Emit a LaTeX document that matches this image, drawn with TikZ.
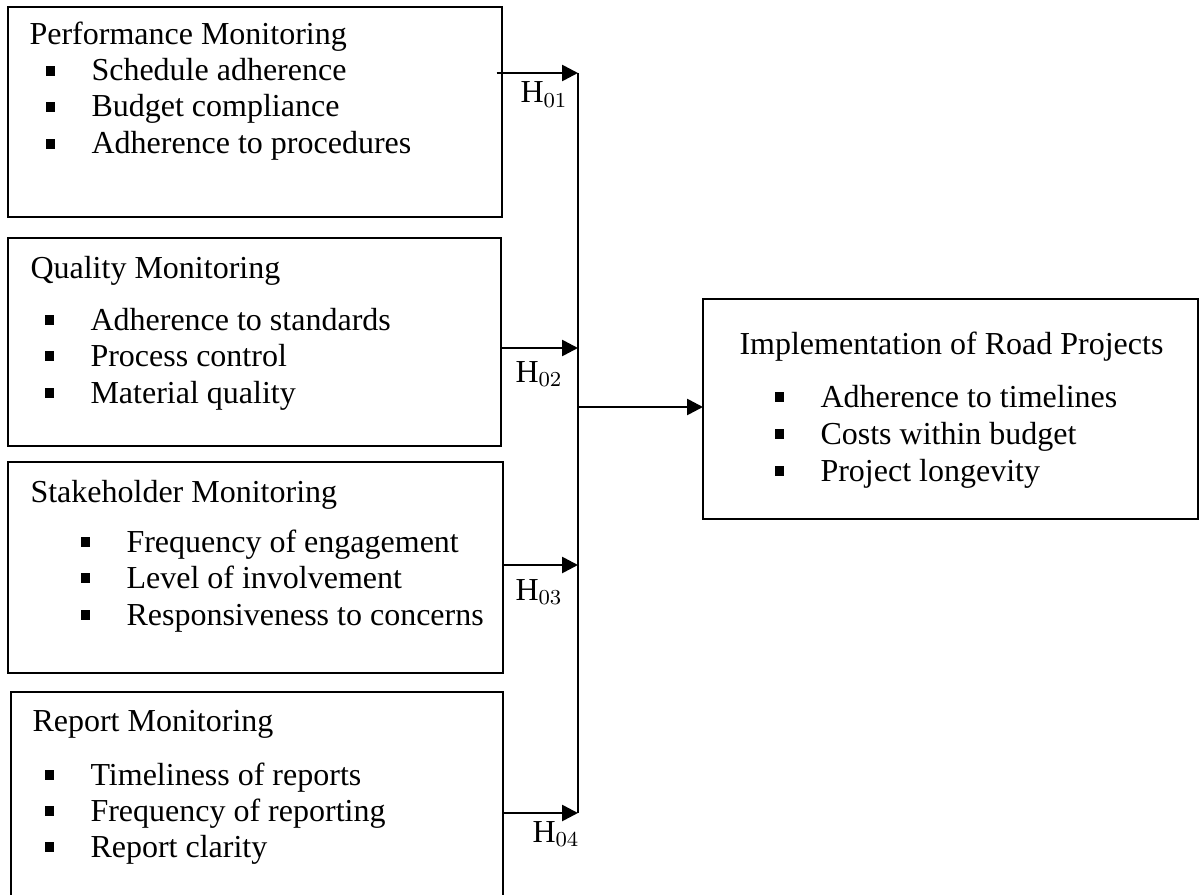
\documentclass[tikz,border=0pt]{standalone}
\usepackage{fontspec}
\setmainfont{Liberation Serif}
\usetikzlibrary{arrows.meta,fit}

\newcommand{\itm}[1]{\rule[2.05pt]{3.4pt}{3.4pt}\hspace{13.85pt}#1}

\begin{document}
\begin{tikzpicture}[x=0.375pt, y=-0.375pt,
		font=\fontsize{12pt}{13.8pt}\selectfont,
		>={Triangle[length=6pt,width=6pt]},
		box/.style={draw, line width=0.75pt, inner sep=0pt, outer sep=0pt},
		txt/.style={anchor=base west, inner sep=0pt},
		link/.style={->, line width=1pt}]
	\useasboundingbox (0,0) rectangle (1200,895);

	% left boxes
	\node[box, fit={(8,7) (502,217)}] (perf) {};
	\node[txt] (perf-t) at (29,45) {Performance Monitoring};
	\node[txt] (perf-1) at (45,81) {\itm{Schedule adherence}};
	\node[txt] (perf-2) at (45,117) {\itm{Budget compliance}};
	\node[txt] (perf-3) at (45,154) {\itm{Adherence to procedures}};

	\node[box, fit={(8,238) (501,446)}] (qual) {};
	\node[txt] (qual-t) at (30,278) {Quality Monitoring};
	\node[txt] (qual-1) at (44,330) {\itm{Adherence to standards}};
	\node[txt] (qual-2) at (44,366) {\itm{Process control}};
	\node[txt] (qual-3) at (44,403) {\itm{Material quality}};

	\node[box, fit={(8,462) (503,673)}] (stake) {};
	\node[txt] (stake-t) at (30,502) {Stakeholder Monitoring};
	\node[txt] (stake-1) at (80,552) {\itm{Frequency of engagement}};
	\node[txt] (stake-2) at (80,588) {\itm{Level of involvement}};
	\node[txt] (stake-3) at (80,625) {\itm{Responsiveness to concerns}};

	\node[box, fit={(11,692) (503,905)}] (rep) {};
	\node[txt] (rep-t) at (32,731) {Report Monitoring};
	\node[txt] (rep-1) at (44,785) {\itm{Timeliness of reports}};
	\node[txt] (rep-2) at (44,821) {\itm{Frequency of reporting}};
	\node[txt] (rep-3) at (44,857) {\itm{Report clarity}};

	% right box
	\node[box, fit={(703,299) (1198,519)}] (impl) {};
	\node[txt] (impl-t) at (739,354) {Implementation of Road Projects};
	\node[txt] (impl-1) at (774,407) {\itm{Adherence to timelines}};
	\node[txt] (impl-2) at (774,444) {\itm{Costs within budget}};
	\node[txt] (impl-3) at (774,481) {\itm{Project longevity}};

	% bus
	\coordinate (b1) at (578,73);
	\coordinate (b2) at (578,348);
	\coordinate (b3) at (578,565);
	\coordinate (b4) at (578,813);
	\coordinate (bm) at (578,407);

	\draw[link, shorten <=-2pt] (perf.east |- b1) -- (b1);
	\draw[link] (qual.east |- b2) -- (b2);
	\draw[link] (stake.east |- b3) -- (b3);
	\draw[link] (rep.east |- b4) -- (b4);
	\draw[line width=0.75pt] (b1) -- (b4);
	\draw[link] (bm) -- (impl.west |- bm);

	\node[txt] (h1) at (520,103) {$\mathrm{H}_{01}$};
	\node[txt] (h2) at (515,382) {$\mathrm{H}_{02}$};
	\node[txt] (h3) at (515,600) {$\mathrm{H}_{03}$};
	\node[txt] (h4) at (532,842) {$\mathrm{H}_{04}$};
\end{tikzpicture}
\end{document}
